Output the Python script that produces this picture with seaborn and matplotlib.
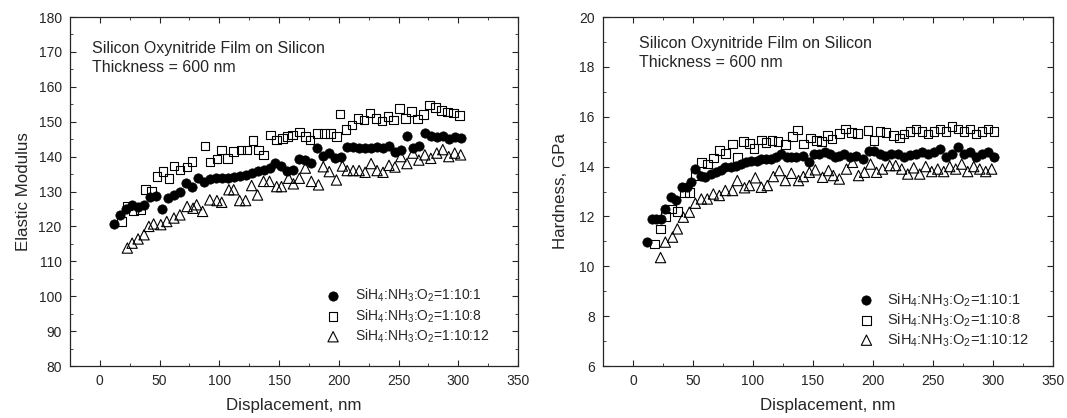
import matplotlib
matplotlib.use("Agg")
import matplotlib.pyplot as plt
from matplotlib.ticker import MultipleLocator
import seaborn as sns

# ---- data ----
# Elastic modulus vs displacement
em_x_1 = [12, 17, 22, 27, 32, 37, 42, 47, 52, 57, 62, 67, 72, 77, 82, 87, 92, 97, 102, 107,
          112, 117, 122, 127, 132, 137, 142, 147, 152, 157, 162, 167, 172, 177, 182, 187, 192, 197, 202, 207,
          212, 217, 222, 227, 232, 237, 242, 247, 252, 257, 262, 267, 272, 277, 282, 287, 292, 297, 302]
em_y_1 = [120.7, 123.2, 125.0, 126.0, 125.6, 126.0, 128.3, 128.6, 125.0, 128.2, 129.0, 129.8, 132.3, 131.4, 133.8, 132.6, 133.7, 134.0, 133.8, 134.0,
          134.2, 134.5, 134.7, 135.2, 135.8, 136.2, 136.8, 138.3, 137.3, 135.8, 136.3, 139.2, 139.0, 138.2, 142.4, 140.2, 141.0, 139.5, 140.0, 142.8,
          142.8, 142.5, 142.6, 142.4, 142.8, 142.5, 143.0, 141.2, 141.8, 146.0, 142.5, 143.0, 146.8, 146.0, 145.5, 146.0, 145.0, 145.5, 145.4]

em_x_8 = [18, 23, 28, 34, 38, 43, 48, 53, 58, 62, 67, 73, 77, 88, 92, 98, 102, 107, 112, 118,
          123, 128, 133, 137, 143, 148, 153, 157, 161, 167, 172, 176, 182, 188, 193, 198, 201, 206, 211, 216,
          221, 226, 231, 236, 241, 246, 251, 256, 261, 266, 271, 276, 281, 286, 291, 296, 301]
em_y_8 = [121.4, 125.9, 124.6, 124.8, 130.5, 130.2, 134.3, 135.7, 133.8, 137.3, 136.2, 137.0, 138.6, 143.0, 138.4, 139.3, 141.9, 139.5, 141.4, 141.9,
          141.9, 144.6, 141.9, 140.5, 146.2, 144.8, 145.2, 145.7, 146.2, 147.1, 145.7, 144.8, 146.7, 146.7, 146.7, 145.7, 152.2, 147.8, 149.0, 151.0,
          150.5, 152.5, 151.0, 150.2, 151.5, 150.5, 153.8, 151.0, 153.0, 150.8, 152.0, 154.8, 154.0, 153.2, 152.8, 152.5, 151.8]

em_x_12 = [23, 27, 32, 37, 41, 45, 51, 56, 62, 67, 73, 78, 81, 86, 92, 98, 102, 108, 112, 117,
           122, 127, 132, 137, 142, 148, 152, 158, 162, 167, 172, 177, 183, 187, 192, 198, 203, 207, 212, 217,
           222, 227, 232, 237, 242, 247, 252, 257, 262, 267, 272, 277, 282, 287, 292, 297, 302]
em_y_12 = [113.8, 115.2, 116.4, 117.6, 120.0, 120.7, 120.5, 121.4, 122.4, 123.3, 125.7, 125.2, 126.2, 124.3, 127.6, 127.4, 126.9, 130.5, 130.5, 127.4,
           127.4, 131.7, 129.0, 132.9, 132.9, 131.4, 131.4, 133.8, 132.2, 133.8, 136.7, 132.9, 131.9, 137.1, 135.7, 133.3, 137.3, 136.0, 136.0, 136.0,
           135.5, 138.0, 136.0, 135.5, 137.5, 137.0, 140.0, 138.0, 141.0, 139.0, 140.5, 139.5, 141.0, 142.0, 140.0, 141.0, 140.5]

# Hardness vs displacement
hd_x_1 = [12, 16, 19, 23, 27, 32, 36, 41, 45, 48, 52, 57, 60, 65, 69, 73, 77, 82, 86, 90,
          94, 98, 103, 107, 111, 115, 119, 123, 128, 132, 136, 142, 147, 151, 155, 160, 164, 168, 172, 176,
          181, 186, 192, 197, 201, 206, 210, 215, 221, 226, 231, 236, 241, 246, 251, 256, 261, 266, 271, 276,
          281, 286, 291, 296, 301]
hd_y_1 = [10.97, 11.9, 11.9, 11.9, 12.3, 12.77, 12.64, 13.17, 13.17, 13.37, 13.9, 13.64, 13.6, 13.7, 13.77, 13.87, 13.97, 13.97, 14.04, 14.1,
          14.17, 14.24, 14.24, 14.3, 14.3, 14.3, 14.37, 14.5, 14.37, 14.37, 14.4, 14.44, 14.17, 14.5, 14.5, 14.57, 14.5, 14.37, 14.44, 14.5,
          14.37, 14.44, 14.3, 14.64, 14.64, 14.5, 14.44, 14.5, 14.5, 14.4, 14.45, 14.5, 14.6, 14.5, 14.6, 14.7, 14.4, 14.5, 14.8, 14.5,
          14.6, 14.4, 14.5, 14.6, 14.4]

hd_x_8 = [18, 23, 27, 32, 37, 43, 47, 52, 57, 62, 67, 72, 77, 83, 87, 92, 97, 101, 107, 111,
          116, 121, 127, 133, 137, 142, 148, 153, 157, 162, 166, 172, 177, 182, 187, 196, 201, 206, 211, 217,
          222, 226, 231, 236, 241, 246, 251, 256, 261, 266, 271, 276, 281, 286, 291, 296, 301]
hd_y_8 = [10.9, 11.5, 12.0, 12.3, 12.2, 12.97, 12.97, 13.64, 14.17, 14.1, 14.35, 14.64, 14.53, 14.9, 14.37, 15.0, 14.93, 14.73, 15.07, 14.97,
          15.04, 15.0, 14.88, 15.2, 15.47, 14.9, 15.15, 15.04, 15.0, 15.24, 15.1, 15.33, 15.5, 15.37, 15.33, 15.44, 15.04, 15.41, 15.37, 15.24,
          15.15, 15.3, 15.4, 15.5, 15.4, 15.3, 15.4, 15.5, 15.4, 15.6, 15.5, 15.4, 15.5, 15.3, 15.4, 15.5, 15.4]

hd_x_12 = [23, 27, 33, 37, 42, 47, 52, 57, 62, 67, 72, 77, 83, 87, 93, 97, 102, 107, 112, 117,
           122, 127, 132, 138, 142, 147, 152, 158, 163, 167, 172, 178, 183, 188, 193, 198, 203, 208, 214, 219,
           224, 229, 234, 239, 244, 249, 254, 259, 264, 269, 274, 279, 284, 289, 294, 299]
hd_y_12 = [10.35, 10.97, 11.17, 11.5, 11.97, 12.17, 12.53, 12.7, 12.7, 12.9, 12.84, 13.04, 13.04, 13.44, 13.15, 13.24, 13.55, 13.17, 13.24, 13.6,
           13.84, 13.44, 13.73, 13.44, 13.6, 13.77, 13.87, 13.57, 13.84, 13.64, 13.5, 13.9, 14.17, 13.64, 13.77, 14.1, 13.77, 13.9, 14.04, 14.04,
           13.9, 13.7, 13.95, 13.7, 14.0, 13.8, 13.9, 13.8, 14.0, 13.9, 14.1, 13.8, 14.0, 13.9, 13.8, 13.9]

labels = ["SiH$_4$:NH$_3$:O$_2$=1:10:1",
          "SiH$_4$:NH$_3$:O$_2$=1:10:8",
          "SiH$_4$:NH$_3$:O$_2$=1:10:12"]

sns.set_style("ticks")
plt.rcParams['font.family'] = ['Liberation Sans', 'DejaVu Sans']
plt.rcParams['mathtext.fontset'] = 'custom'
plt.rcParams['mathtext.rm'] = 'Liberation Sans'

fig = plt.figure(figsize=(10.67, 4.18), dpi=100)
ax1 = fig.add_axes([0.0656, 0.1244, 0.4199, 0.8349])
ax2 = fig.add_axes([0.5651, 0.1244, 0.4217, 0.8349])


def draw(ax, xs, ys):
    # filled circles, open squares, open triangles
    sns.scatterplot(x=xs[0], y=ys[0], ax=ax, marker='o', s=45, color='black',
                    edgecolor='black', linewidth=0.5, label=labels[0])
    sns.scatterplot(x=xs[1], y=ys[1], ax=ax, marker='s', s=38, facecolor='none',
                    edgecolor='black', linewidth=0.8, label=labels[1])
    sns.scatterplot(x=xs[2], y=ys[2], ax=ax, marker='^', s=55, facecolor='none',
                    edgecolor='black', linewidth=0.8, label=labels[2])


draw(ax1, [em_x_1, em_x_8, em_x_12], [em_y_1, em_y_8, em_y_12])
draw(ax2, [hd_x_1, hd_x_8, hd_x_12], [hd_y_1, hd_y_8, hd_y_12])

note = "Silicon Oxynitride Film on Silicon\nThickness = 600 nm"

for ax in (ax1, ax2):
    ax.set_xlim(-25, 350)
    ax.xaxis.set_major_locator(MultipleLocator(50))
    ax.xaxis.set_minor_locator(MultipleLocator(25))
    ax.tick_params(which='both', direction='in', top=True, right=True, labelsize=10, pad=6)
    ax.tick_params(which='major', length=4, width=0.8)
    ax.tick_params(which='minor', length=2, width=0.6)
    for sp in ax.spines.values():
        sp.set_linewidth(0.9)
    ax.set_xlabel("Displacement, nm", fontsize=12.2, labelpad=7)

ax1.legend(loc='lower right', frameon=False, fontsize=10, handletextpad=0.6,
           labelspacing=0.2, bbox_to_anchor=(0.965, 0.025))
ax2.legend(loc='lower right', frameon=False, fontsize=10.5, handletextpad=0.4,
           labelspacing=0.15, bbox_to_anchor=(0.975, 0.012))

ax1.set_ylim(80, 180)
ax1.yaxis.set_major_locator(MultipleLocator(10))
ax1.yaxis.set_minor_locator(MultipleLocator(5))
ax1.set_ylabel("Elastic Modulus", fontsize=12.2, labelpad=5)
ax1.text(0.05, 0.93, note, transform=ax1.transAxes, fontsize=11.5, va='top', linespacing=1.3)

ax2.set_ylim(6, 20)
ax2.yaxis.set_major_locator(MultipleLocator(2))
ax2.yaxis.set_minor_locator(MultipleLocator(1))
ax2.set_ylabel("Hardness, GPa", fontsize=12.2, labelpad=8)
ax2.text(0.08, 0.945, note, transform=ax2.transAxes, fontsize=11.5, va='top', linespacing=1.3)

fig.savefig("out.png", dpi=100)
